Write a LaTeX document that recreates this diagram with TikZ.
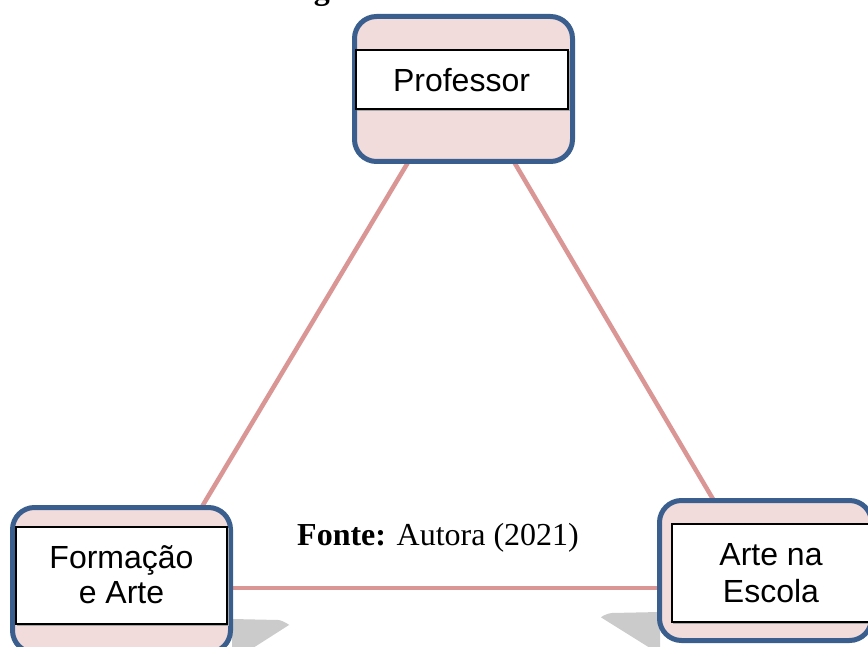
\documentclass[tikz,border=0pt]{standalone}
\usepackage{fontspec}
\setmainfont{Liberation Serif}
\newfontfamily\arialfont{Liberation Sans}
\definecolor{boxblue}{HTML}{3A5F8E}
\definecolor{boxpink}{HTML}{F2DCDB}
\definecolor{linkpink}{HTML}{D99694}
\definecolor{shadowgray}{HTML}{CBCBCB}
\begin{document}
\begin{tikzpicture}[x=1pt,y=-1pt,
  outerbox/.style={draw=boxblue, line width=5pt, fill=boxpink, rounded corners=22pt, inner sep=0pt},
  innerbox/.style={draw=black, line width=1.3pt, fill=white, inner sep=0pt},
  innershadow/.style={draw=gray!70, line width=1.3pt, inner sep=0pt},
  lbl/.style={font=\arialfont\fontsize{32}{35}\selectfont, inner sep=0pt, anchor=base},
  link/.style={draw=linkpink, line width=4.5pt},
  castshadow/.style={fill=shadowgray, draw=none}
]
\useasboundingbox (0,0) rectangle (868,647);

% title (cut off at the top, as in the reference)
\node[anchor=base, inner sep=0pt, font=\bfseries\fontsize{32}{36}\selectfont] (title) at (474,-0.8) {Figura 1: Tríade de Análise};

% connector end points
\coordinate (pl) at (415.4,150);
\coordinate (fl) at (195.2,518);
\coordinate (pr) at (507,150);
\coordinate (ar) at (720,511);
\coordinate (fh) at (225,588);
\coordinate (ah) at (665,588);

\draw[link] (pl) -- (fl);
\draw[link] (pr) -- (ar);
\draw[link] (fh) -- (ah);

% cast shadows
\fill[castshadow] (232,619) -- (278,620) to[out=0,in=-30] (289,625) -- (253,648) -- (232,648) -- cycle;
\fill[castshadow] (660,612) -- (612,613) to[out=180,in=180] (602,618) -- (650,648) -- (660,648) -- cycle;

% outer boxes
\node[outerbox, minimum width=218pt, minimum height=145pt] (prof) at (463.5,89) {};
\node[outerbox, minimum width=218pt, minimum height=145pt] (form) at (121.5,580) {};
\node[outerbox, minimum width=212pt, minimum height=140pt] (arte) at (765.5,570.5) {};

% inner boxes
\node[innershadow, minimum width=212pt, minimum height=59pt] (profs) at (463.2,80.7) {};
\node[innerbox, minimum width=212pt, minimum height=59pt] (profi) at (462,79.5) {};
\node[innershadow, minimum width=211pt, minimum height=97pt] (forms) at (122.7,576.7) {};
\node[innerbox, minimum width=211pt, minimum height=97pt] (formi) at (121.5,575.5) {};
\node[innershadow, minimum width=200pt, minimum height=98pt] (artes) at (773.2,574.2) {};
\node[innerbox, minimum width=200pt, minimum height=98pt] (artei) at (772,573) {};

% labels
\node[lbl] (tprof) at (461.5,92) {Professor};
\node[lbl] (tform1) at (121.5,568) {Formação};
\node[lbl] (tform2) at (121.5,603) {e Arte};
\node[lbl] (tarte1) at (771,565) {Arte na};
\node[lbl] (tarte2) at (771,602) {Escola};

% source
\node[anchor=base west, inner sep=0pt, font=\fontsize{32}{36}\selectfont] (fonte) at (297,545) {\textbf{Fonte:} Autora (2021)};
\end{tikzpicture}
\end{document}
